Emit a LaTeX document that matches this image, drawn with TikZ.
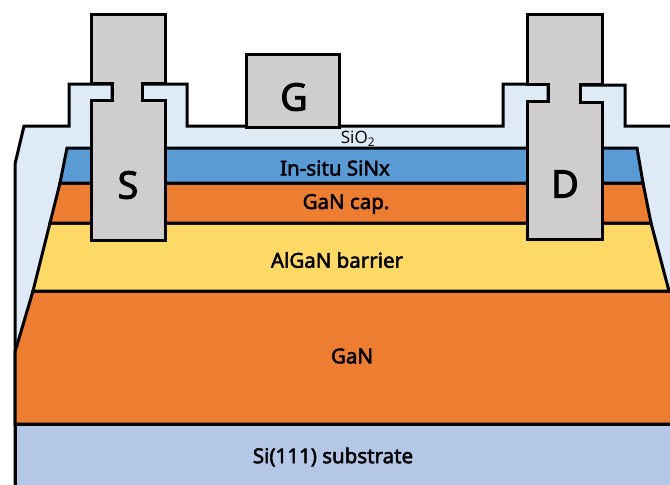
\documentclass[tikz,border=0pt]{standalone}
\usepackage{fontspec}
\setmainfont{Open Sans}
\newfontfamily\labfont[FakeBold=2.4]{Noto Sans}
\definecolor{oxide}{HTML}{DEEAF6}
\definecolor{metal}{HTML}{CFCDCE}
\definecolor{sinx}{HTML}{5B9BD5}
\definecolor{ganorange}{HTML}{ED7D31}
\definecolor{barrier}{HTML}{FFD966}
\definecolor{subst}{HTML}{B4C7E7}
\tikzset{
  part/.style={draw=black,line width=3pt,line join=miter},
  layerlabel/.style={font=\labfont\fontsize{20.5}{22}\selectfont,inner sep=0pt},
  contact/.style={font=\labfont\fontsize{38}{40}\selectfont,inner sep=0pt}
}
\begin{document}
\begin{tikzpicture}[x=1pt,y=-1pt]
\useasboundingbox (0,0) rectangle (670,485);
\fill[white] (0,0) rectangle (670,485);
% SiO2 envelope
\draw[part,fill=oxide] (15,485) -- (15,164) -- (24,126) -- (69,126) -- (69,84) -- (112,84) -- (112,100) -- (142,100) -- (142,84) -- (187,84) -- (187,126) -- (503,126) -- (503,84) -- (548,84) -- (548,102) -- (580,102) -- (580,85) -- (625,85) -- (625,126) -- (675,126) -- (675,490) -- cycle;
% layers
\draw[part,fill=ganorange] (15,424) -- (15,352) -- (33,291) -- (675,291) -- (675,424) -- cycle;
\draw[part,fill=subst] (15,424) -- (675,424) -- (675,490) -- (15,490) -- cycle;
\draw[part,fill=barrier] (33,291) -- (50,223) -- (651,223) -- (669,291) -- cycle;
\draw[part,fill=ganorange] (50,223) -- (60,183) -- (643,183) -- (651,223) -- cycle;
\draw[part,fill=sinx] (60,183) -- (67,148) -- (637,148) -- (643,183) -- cycle;
% contacts
\draw[part,fill=metal] (91,14) -- (165,14) -- (165,83) -- (142,83) -- (142,100) -- (165,100) -- (165,240) -- (91,240) -- (91,100) -- (112,100) -- (112,83) -- (91,83) -- cycle;
\draw[part,fill=metal] (527,14) -- (602,14) -- (602,84) -- (580,84) -- (580,102) -- (602,102) -- (602,239) -- (527,239) -- (527,101) -- (548,101) -- (548,84) -- (527,84) -- cycle;
\draw[part,fill=metal] (246,54) rectangle (339,127);
% labels
\node[contact] (s) at (128,185) {S};
\node[contact] (d) at (565,184) {D};
\node[contact] (g) at (294,97) {G};
\node[inner sep=0pt,font=\fontsize{17}{18}\selectfont] (ox) at (358,139) {SiO\textsubscript{2}};
\node[layerlabel] (n1) at (335,168) {In-situ SiNx};
\node[layerlabel] (n2) at (346,204) {GaN cap.};
\node[layerlabel] (n3) at (337,260) {AlGaN barrier};
\node[layerlabel] (n4) at (352,356) {GaN};
\node[layerlabel] (n5) at (333,457) {Si(111) substrate};
\end{tikzpicture}
\end{document}
